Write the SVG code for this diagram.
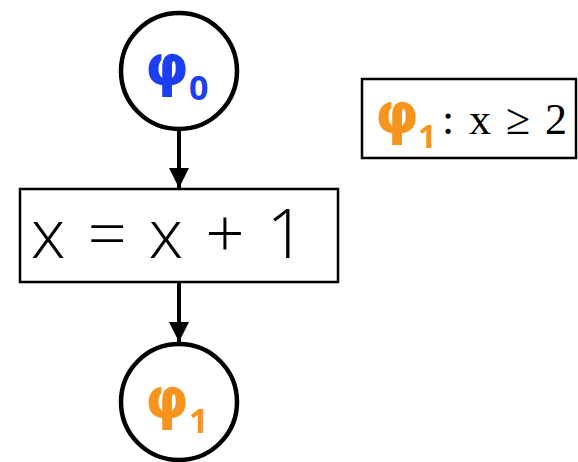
<svg xmlns="http://www.w3.org/2000/svg" width="578" height="462" viewBox="0 0 578 462">
<defs>
<style>
.node{fill:#fff;stroke:#000;stroke-width:4.5}
.box{fill:#fff;stroke:#000;stroke-width:2.5}
.edge{stroke:#000;stroke-width:4;fill:none}
.phi{font-family:"DejaVu Sans",sans-serif;font-weight:bold}
.sub{font-family:"Open Sans",sans-serif;font-weight:bold}
</style>
<marker id="ah" markerWidth="5" markerHeight="5" refX="5" refY="2.5" orient="auto" markerUnits="strokeWidth">
<path d="M0,0 L5,2.5 L0,5 Z" fill="#000"/>
</marker>
</defs>
<rect width="578" height="462" fill="#fff"/>
<g id="connectors">
<line class="edge" x1="179" y1="130" x2="179" y2="188" marker-end="url(#ah)"/>
<line class="edge" x1="179" y1="282" x2="179" y2="342" marker-end="url(#ah)"/>
</g>
<g id="phi0">
<circle class="node" cx="179" cy="71" r="58"/>
<text class="phi" x="145" y="85" font-size="56" fill="#1b3ef2">φ</text>
<text class="sub" x="189" y="100" font-size="34" fill="#1b3ef2">0</text>
</g>
<g id="assign">
<rect class="box" x="20" y="189" width="318" height="93"/>
<text x="31" y="258" font-family="Open Sans, sans-serif" font-weight="300" font-size="69" textLength="275" lengthAdjust="spacing">x = x + 1</text>
</g>
<g id="phi1">
<circle class="node" cx="179" cy="402" r="58"/>
<text class="phi" x="145" y="418" font-size="56" fill="#f7941d">φ</text>
<text class="sub" x="189" y="433" font-size="34" fill="#f7941d">1</text>
</g>
<g id="legend">
<rect class="box" x="362" y="79" width="214" height="79"/>
<text class="phi" x="375" y="133" font-size="56" fill="#f7941d">φ</text>
<text class="sub" x="418" y="148" font-size="32" fill="#f7941d">1</text>
<text x="442" y="134" font-family="Liberation Serif, serif" font-size="44" textLength="125" lengthAdjust="spacing">: x ≥ 2</text>
</g>
</svg>
